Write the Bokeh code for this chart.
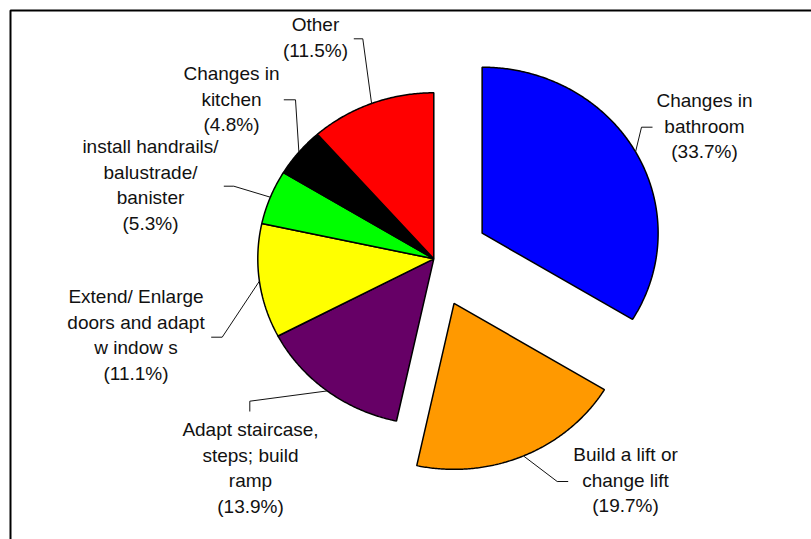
import numpy as np
from bokeh.plotting import figure
from bokeh.models import Range1d, ColumnDataSource
from bokeh.core.properties import value
from bokeh.embed import file_html
from bokeh.resources import INLINE

# Share of home adaptations by type (percent), clockwise from 12 o'clock
categories = [
    "Changes in bathroom",
    "Build a lift or change lift",
    "Adapt staircase, steps; build ramp",
    "Extend/ Enlarge doors and adapt windows",
    "install handrails/ balustrade/ banister",
    "Changes in kitchen",
    "Other",
]
shares = [33.7, 19.7, 13.9, 11.1, 5.3, 4.8, 11.5]
label_text = [
    "Changes in\nbathroom",
    "Build a lift or\nchange lift",
    "Adapt staircase,\nsteps; build\nramp",
    "Extend/ Enlarge\ndoors and adapt\nw indow s",
    "install handrails/\nbalustrade/\nbanister",
    "Changes in\nkitchen",
    "Other",
]
slice_colors = ["#0000FF", "#FF9900", "#660066", "#FFFF00", "#00FF00", "#000000", "#FF0000"]

# ---- layout / style (pixel space, y grows downward) ----
W, H = 811, 539
CX, CY = 433.3, 258.3          # pie centre
RX, RY = 176.0, 166.0          # horizontal / vertical radius
explode = [0.315, 0.292, 0, 0, 0, 0, 0]
label_anchor = [(704, 100), (625, 454), (250, 429), (135.5, 296),
                (150, 146), (231, 73), (315, 24)]
leader_bend = [
    [(641, 126.7), (652, 126.7)],
    [(556.7, 481), (567.7, 481)],
    [(249.3, 400.7), (249.3, 411)],
    [(221.7, 336.7), (210.7, 336.7)],
    [(233.3, 185.7), (223.3, 185.7)],
    [(295, 99.3), (283.3, 99.3)],
    [(362.3, 38.3), (353.3, 38.3)],
]
LINE_STEP = 25.7
FONT = value("Liberation Sans")

p = figure(width=W, height=H, x_range=Range1d(0, W), y_range=Range1d(H, 0),
           x_axis_type=None, y_axis_type=None, toolbar_location=None,
           output_backend="svg", min_border=0, outline_line_color=None)
p.xgrid.visible = False
p.ygrid.visible = False

# chart frame
p.line([10, 10, 830], [560, 10, 10], line_color="black", line_width=2)

total = float(sum(shares))
bounds = np.cumsum([0.0] + shares) / total * 2 * np.pi

xs, ys, lead_x, lead_y = [], [], [], []
text_x, text_y, text_s = [], [], []
for i, s in enumerate(shares):
    a0, a1 = bounds[i], bounds[i + 1]
    am = 0.5 * (a0 + a1)
    ox = CX + RX * explode[i] * np.sin(am)
    oy = CY - RY * explode[i] * np.cos(am)
    t = np.linspace(a0, a1, max(10, int(120 * (a1 - a0))))
    xs.append(np.concatenate([[ox], ox + RX * np.sin(t), [ox]]))
    ys.append(np.concatenate([[oy], oy - RY * np.cos(t), [oy]]))

    # leader line from the slice edge at its middle angle
    sx, sy = ox + RX * np.sin(am), oy - RY * np.cos(am)
    (bx, by), (ex, ey) = leader_bend[i]
    lead_x.append([sx, bx, ex])
    lead_y.append([sy, by, ey])

    lines = label_text[i].split("\n") + [f"({s:.1f}%)"]
    ax, ay = label_anchor[i]
    for k, ln in enumerate(lines):
        text_x.append(ax)
        text_y.append(ay + k * LINE_STEP)
        text_s.append(ln)

p.patches(xs, ys, fill_color=slice_colors, line_color="black", line_width=1.5)
p.multi_line(lead_x, lead_y, line_color="#111111", line_width=1)

src = ColumnDataSource(dict(x=text_x, y=text_y, t=text_s))
p.text("x", "y", text="t", source=src, text_font=FONT, text_font_size="19px",
       text_align="center", text_baseline="middle", text_color="#111111")

open("out.html", "w").write(file_html(p, INLINE))
